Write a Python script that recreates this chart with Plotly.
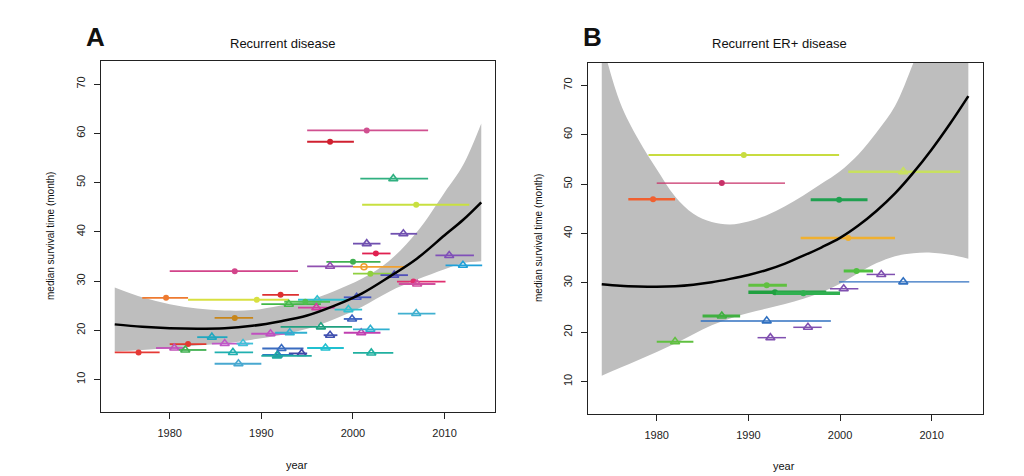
import plotly.graph_objects as go

# ---------------- Panel A: Recurrent disease ----------------
A_year = [1976.6, 1987.1, 1979.6, 1989.5, 1987.1, 1992.1, 1993.0, 1982.0, 1980.5, 1981.7,
          1984.6, 1986.0, 1988.0, 1986.9, 1987.5, 1991.0, 1993.1, 1992.2, 1991.8, 1994.4,
          1991.7, 2005.5, 2001.5, 2002.5, 2000.0, 1997.5, 2001.2, 2001.9, 2004.5, 2006.6,
          2007.0, 2010.5, 2012.0, 2006.9, 2000.4, 1996.1, 1994.8, 1996.0, 1999.5, 1999.9,
          1996.5, 1997.5, 2000.9, 2001.9, 1997.0, 2002.0, 2001.5, 1997.5, 2004.4, 2006.9]
A_surv = [15.5, 32.0, 26.6, 26.2, 22.5, 27.2, 25.3, 17.2, 16.4, 16.0,
          18.6, 17.3, 17.3, 15.5, 13.2, 19.3, 19.5, 16.3, 15.0, 15.3,
          14.8, 39.6, 37.6, 35.6, 33.9, 33.0, 32.9, 31.5, 31.2, 29.9,
          29.4, 35.2, 33.2, 23.4, 26.7, 26.2, 25.8, 24.6, 24.2, 22.3,
          20.7, 19.0, 19.5, 20.2, 16.4, 15.4, 60.6, 58.3, 50.8, 45.5]
A_lo = [1974.0, 1980.0, 1977.0, 1982.0, 1984.9, 1990.1, 1990.0, 1980.0, 1978.5, 1981.0,
        1983.0, 1984.6, 1987.3, 1984.9, 1984.9, 1988.9, 1991.5, 1990.1, 1990.1, 1993.0,
        1990.0, 2004.1, 2000.0, 2001.0, 1997.1, 1995.0, 2000.0, 2000.0, 2003.0, 2004.8,
        2005.0, 2009.0, 2010.1, 2004.9, 1999.0, 1994.0, 1992.5, 1994.0, 1998.0, 1999.0,
        1992.1, 1996.8, 1999.0, 2000.0, 1995.0, 2000.0, 1995.0, 1995.0, 2000.8, 2001.0]
A_hi = [1978.9, 1994.0, 1982.0, 1993.0, 1989.1, 1994.1, 1996.5, 1984.0, 1981.6, 1984.0,
        1986.3, 1988.7, 1989.1, 1989.1, 1990.0, 1993.4, 1995.0, 1994.6, 1993.5, 1995.0,
        1995.5, 2007.0, 2003.0, 2004.1, 2003.0, 2000.0, 2005.8, 2004.4, 2006.0, 2010.1,
        2009.0, 2013.2, 2014.1, 2009.0, 2002.0, 1999.5, 1997.5, 1998.0, 2001.0, 2001.0,
        1999.9, 1998.3, 2003.0, 2004.0, 1999.0, 2004.4, 2008.2, 2000.1, 2008.2, 2012.7]
A_kind = ["c", "c", "c", "c", "c", "c", "t", "c", "t", "t",
          "t", "t", "t", "t", "t", "t", "t", "t", "t", "t",
          "t", "t", "t", "c", "c", "t", "o", "c", "t", "c",
          "t", "t", "t", "t", "t", "t", "c", "t", "t", "t",
          "t", "t", "t", "t", "t", "t", "c", "c", "t", "c"]

A_fit_year = [1974, 1977, 1980, 1983, 1986, 1989, 1992, 1995, 1998, 2001, 2004, 2007, 2010, 2012, 2014]
A_fit = [21.2, 20.7, 20.4, 20.3, 20.4, 20.9, 21.8, 23.0, 25.0, 27.5, 30.9, 34.6, 39.3, 42.4, 46.0]
A_upper = [28.7, 26.7, 25.3, 24.4, 24.0, 24.1, 25.0, 26.0, 28.0, 30.5, 34.2, 40.0, 48.0, 53.5, 62.0]
A_lower = [15.7, 16.0, 16.4, 16.9, 17.3, 18.1, 19.0, 20.3, 22.3, 24.8, 27.9, 30.3, 32.4, 33.6, 34.0]

# ---------------- Panel B: Recurrent ER+ disease ----------------
B_year = [1989.5, 1987.1, 1979.6, 2006.9, 1999.9, 2000.9, 2001.8, 2004.5, 2006.9,
          2000.4, 1992.9, 1992.0, 1996.0, 1987.1, 1992.0, 1996.5, 1992.4, 1982.0]
B_surv = [55.9, 50.2, 46.9, 52.5, 46.8, 39.1, 32.4, 31.7, 30.2,
          28.8, 28.1, 29.5, 27.9, 23.3, 22.3, 21.0, 18.9, 18.1]
B_lo = [1979.1, 1980.0, 1976.9, 2000.9, 1996.8, 1995.7, 2000.4, 2002.9, 1999.9,
        1998.9, 1990.0, 1990.0, 1993.0, 1985.0, 1984.8, 1994.9, 1991.0, 1980.0]
B_hi = [1999.9, 1994.0, 1982.0, 2013.1, 2003.0, 2006.0, 2003.6, 2006.0, 2014.1,
        2002.0, 1998.5, 1994.2, 2000.0, 1989.1, 1999.0, 1998.0, 1994.1, 1984.0]
B_kind = ["c", "c", "c", "t", "c", "c", "c", "t", "t",
          "t", "c", "c", "c", "t", "t", "t", "t", "t"]

B_fit_year = [1974, 1976, 1978, 1980, 1982, 1984, 1986, 1988, 1990, 1992, 1994,
              1996, 1998, 2000, 2002, 2004, 2006, 2008, 2010, 2012, 2014]
B_fit = [29.7, 29.4, 29.25, 29.2, 29.3, 29.6, 30.1, 30.8, 31.6, 32.6, 33.9,
         35.5, 37.2, 39.1, 41.6, 44.6, 48.1, 52.3, 57.0, 62.2, 67.8]
B_upper = [79.0, 66.5, 59.0, 53.0, 47.5, 44.0, 42.3, 41.8, 42.4, 43.7, 45.5,
           47.7, 50.1, 52.6, 56.0, 60.5, 65.8, 74.5, 84.0, 95.0, 108.0]
B_lower = [11.2, 12.8, 14.4, 16.0, 17.7, 19.6, 21.4, 22.8, 23.9, 24.8, 25.7,
           26.8, 28.1, 29.8, 32.0, 34.0, 35.4, 36.0, 36.1, 35.7, 34.9]

x_ticks = [1980, 1990, 2000, 2010]
y_ticks = [10, 20, 30, 40, 50, 60, 70]

# ---------------- styles ----------------
A_colors = ["#e53935", "#d2448a", "#ee7a30", "#d8e040", "#c8861a", "#dd3030", "#44b848", "#e03a30", "#c050b8", "#40b050",
            "#20a8c0", "#c058c8", "#40c0d8", "#20b0b0", "#48a8d0", "#c050c0", "#30b0d0", "#3a6cc0", "#2a80c0", "#4048a8",
            "#20a8a0", "#7050b0", "#7050b0", "#e02050", "#40b050", "#9050b0", "#f0a030", "#90d040", "#5050b8", "#e03070",
            "#d050a0", "#8050b8", "#20a0d8", "#40b0d0", "#4858c0", "#30c0d0", "#50c050", "#d040a0", "#30c0d0", "#3c60c0",
            "#20a080", "#4050b0", "#c040b0", "#30b0d0", "#20c0d0", "#20b0a0", "#d05090", "#d02030", "#30b080", "#c8e040"]
B_colors = ["#c8dc40", "#c83068", "#f06030", "#c8e060", "#20a050", "#f0b030", "#50c040", "#8050b0", "#3070c0",
            "#8050b0", "#20a040", "#60c040", "#30b050", "#40b040", "#3070c0", "#8050b0", "#8050b0", "#60c040"]
B_widths = [2, 1.2, 2.5, 2.5, 3, 2.5, 3, 1.5, 1.2, 1.5, 3.5, 3, 3.5, 3, 1.5, 1.5, 1.5, 2]

BAND = "#bebebe"
fig = go.Figure()


def add_panel(xa, ya, fy, fit, up, low, yrs, surv, lo, hi, kinds, colors, widths):
    fig.add_trace(go.Scatter(x=fy, y=low, mode="lines", line=dict(width=0, color=BAND, shape="spline"),
                             xaxis=xa, yaxis=ya, hoverinfo="skip", showlegend=False))
    fig.add_trace(go.Scatter(x=fy, y=up, mode="lines", fill="tonexty", fillcolor=BAND,
                             line=dict(width=0, color=BAND, shape="spline"),
                             xaxis=xa, yaxis=ya, hoverinfo="skip", showlegend=False))
    for i in range(len(yrs)):
        k = kinds[i]
        if k == "t":
            sym, size, mk = "triangle-up-open", 8, dict(color=colors[i], width=1.6)
        elif k == "o":
            sym, size, mk = "circle-open", 6, dict(color=colors[i], width=1.6)
        else:
            sym, size, mk = "circle", 6, dict(color=colors[i], width=0)
        fig.add_trace(go.Scatter(
            x=[yrs[i]], y=[surv[i]], mode="markers", xaxis=xa, yaxis=ya,
            marker=dict(symbol=sym, size=size, color=colors[i], line=mk),
            error_x=dict(type="data", symmetric=False, array=[hi[i] - yrs[i]],
                         arrayminus=[yrs[i] - lo[i]], width=0, thickness=widths[i], color=colors[i]),
            showlegend=False))
    fig.add_trace(go.Scatter(x=fy, y=fit, mode="lines", line=dict(color="black", width=2.5, shape="spline"),
                             xaxis=xa, yaxis=ya, showlegend=False))


add_panel("x", "y", A_fit_year, A_fit, A_upper, A_lower, A_year, A_surv, A_lo, A_hi, A_kind, A_colors,
          [1.8] * len(A_year))
add_panel("x2", "y2", B_fit_year, B_fit, B_upper, B_lower, B_year, B_surv, B_lo, B_hi, B_kind, B_colors,
          B_widths)

W, H = 1024, 476
axis_common = dict(showgrid=False, zeroline=False, showline=True, linecolor="#222", linewidth=1.2,
                   mirror=True, ticks="outside", ticklen=6, tickcolor="#222", tickwidth=1.2,
                   tickfont=dict(family="Liberation Sans, Arial", size=11, color="#222"))

fig.update_layout(
    width=W, height=H, margin=dict(l=0, r=0, t=0, b=0),
    paper_bgcolor="white", plot_bgcolor="white", showlegend=False,
    xaxis=dict(domain=[101 / W, 495 / W], range=[1972.5, 2015.5], tickvals=x_ticks,
               ticklabelstandoff=5, anchor="y", **axis_common),
    yaxis=dict(domain=[64 / H, 415 / H], range=[3.4, 74.7], tickvals=y_ticks, tickangle=-90,
               ticklabelstandoff=5, anchor="x", **axis_common),
    xaxis2=dict(domain=[588 / W, 983 / W], range=[1972.5, 2015.6], tickvals=x_ticks,
                ticklabelstandoff=5, anchor="y2", **axis_common),
    yaxis2=dict(domain=[62 / H, 413 / H], range=[3.45, 74.5], tickvals=y_ticks, tickangle=-90,
                ticklabelstandoff=5, anchor="x2", **axis_common),
)

font = "Liberation Sans, Arial"
ann = [
    dict(text="<b>A</b>", x=95 / W, y=(H - 37) / H, size=26),
    dict(text="<b>B</b>", x=592 / W, y=(H - 37) / H, size=26),
    dict(text="Recurrent disease", x=283 / W, y=(H - 43) / H, size=13),
    dict(text="Recurrent ER+ disease", x=779 / W, y=(H - 43) / H, size=13),
    dict(text="year", x=297 / W, y=(H - 465) / H, size=11),
    dict(text="year", x=784 / W, y=(H - 466) / H, size=11),
]
for a in ann:
    fig.add_annotation(text=a["text"], x=a["x"], y=a["y"], xref="paper", yref="paper", showarrow=False,
                       xanchor="center", yanchor="middle", font=dict(family=font, size=a["size"], color="#111"))
for xp, yp in [(50, 236), (538, 238)]:
    fig.add_annotation(text="median survival time (month)", x=xp / W, y=(H - yp) / H, xref="paper", yref="paper",
                       showarrow=False, textangle=-90, xanchor="center", yanchor="middle",
                       font=dict(family=font, size=10, color="#111"))

fig.write_html("out.html", config={"displayModeBar": False},
               post_script="document.body.style.margin='0';document.body.style.overflow='hidden';")
